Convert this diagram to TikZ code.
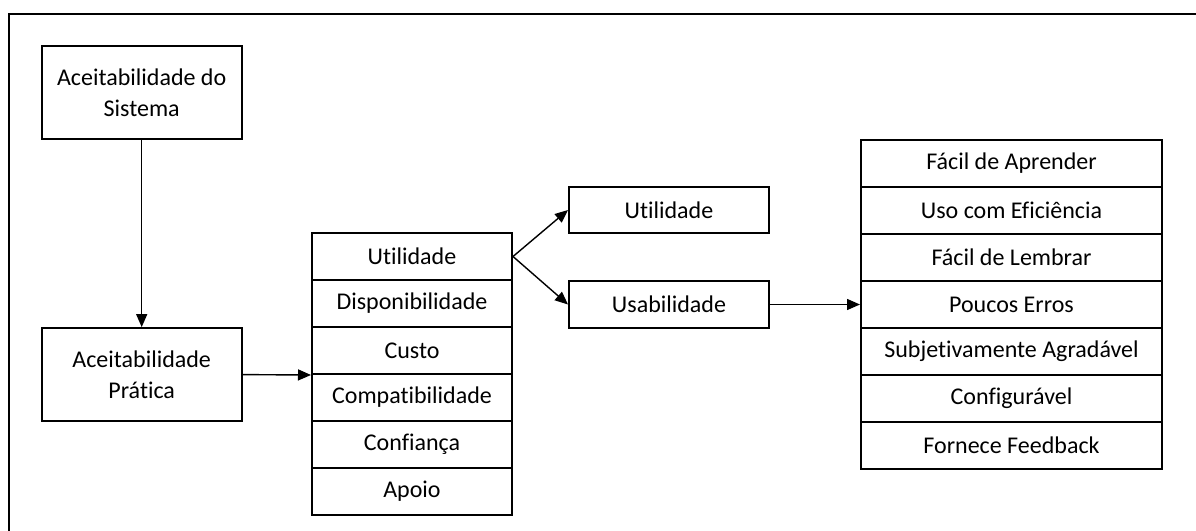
\documentclass[tikz,border=0pt]{standalone}
\usepackage{fontspec}
\setmainfont[RawFeature={-liga;-clig;-dlig;-calt}]{Carlito}
\usetikzlibrary{arrows.meta}
\begin{document}
\begin{tikzpicture}[x=1pt,y=-1pt,
  txt/.style={font=\fontsize{24}{31.5}\selectfont, align=center, inner sep=0pt},
  box/.style={txt, draw, line width=2pt, minimum width=200pt},
  cell/.style={box, minimum height=47pt},
  widecell/.style={cell, minimum width=301pt},
  arr/.style={line width=1.4pt, -{Triangle[length=13pt,width=11pt]}}]
\useasboundingbox (0,0) rectangle (1196,530);
\clip (0,0) rectangle (1196,530);
% outer frame
\draw[line width=1.8pt] (9,540) |- (1200,14);

% left column
\node[box, minimum height=93pt] (sys) at (141.7,92.6) {Aceitabilidade do\\Sistema};
\node[box, minimum height=93pt] (prat) at (141.7,374.6) {Aceitabilidade\\Prática};

% practical acceptability attributes
\foreach \t [count=\i from 0] in {Utilidade,Disponibilidade,Custo,Compatibilidade,Confiança,Apoio}
  \node[cell] (a\i) at (412,256.5+47*\i) {\t};

% utility split
\node[box, minimum height=46pt] (util) at (669,210) {Utilidade};
\node[box, minimum height=47pt] (usab) at (669,304.5) {Usabilidade};

% usability attributes
\foreach \t [count=\i from 0] in {Fácil de Aprender,Uso com Eficiência,Fácil de Lembrar,Poucos Erros,Subjetivamente Agradável,Configurável,Fornece Feedback}
  \node[widecell] (u\i) at (1011.5,163.5+47*\i) {\t};

% connectors
\draw[arr] (sys.south) -- (prat.north);
\draw[arr] (prat.east) -- (a2.south west);
\draw[arr] (a0.east) -- (util.west);
\draw[arr] (a0.east) -- (usab.west);
\draw[arr] (usab.east) -- (u3.west);
\end{tikzpicture}
\end{document}
